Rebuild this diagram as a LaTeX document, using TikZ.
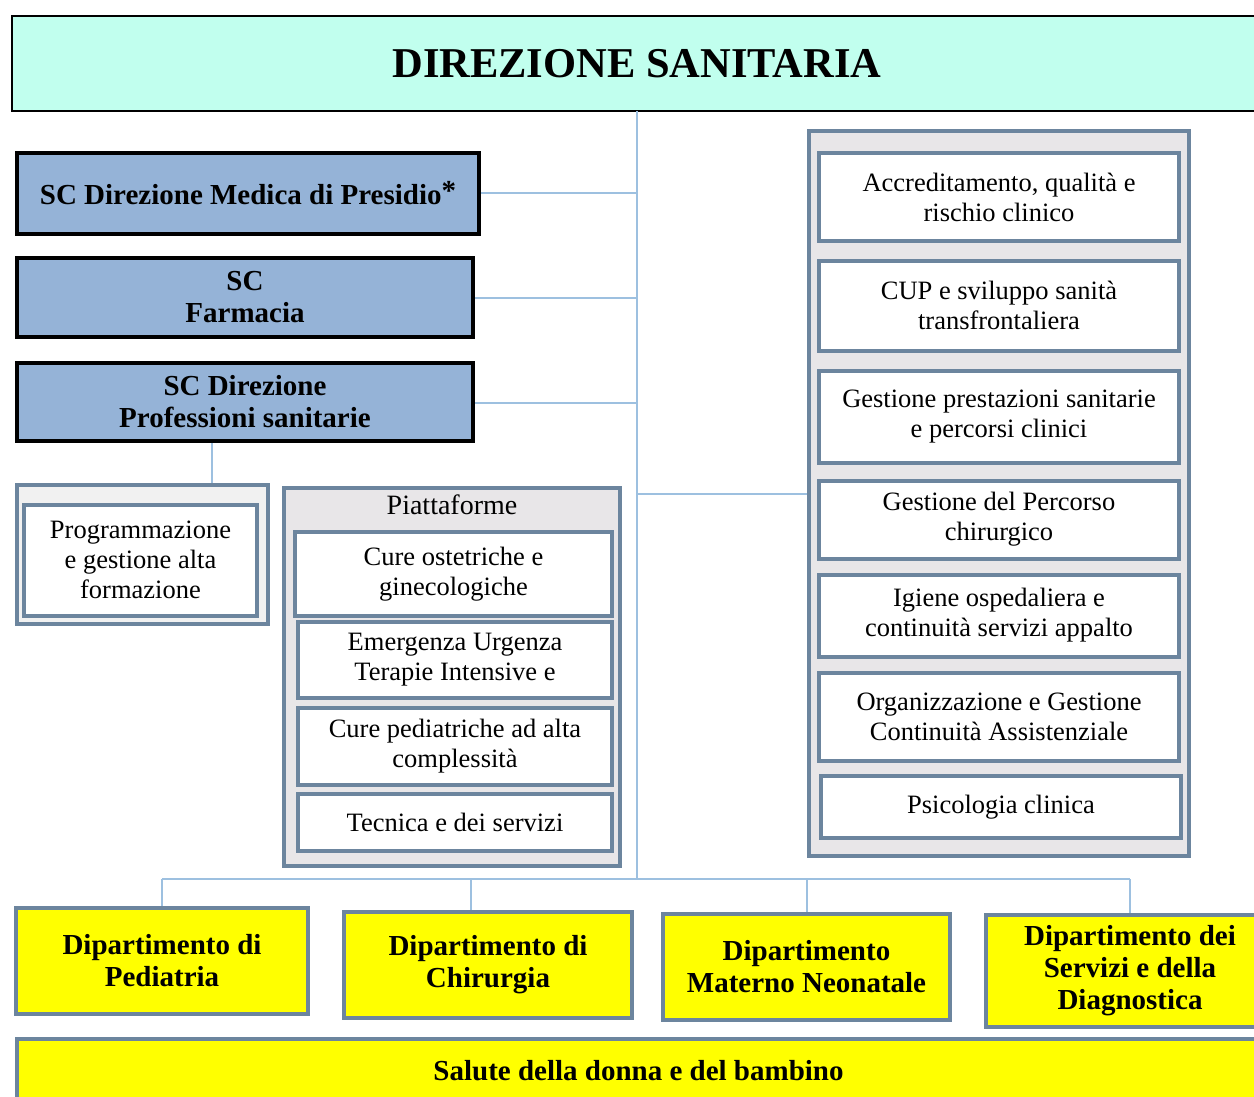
\documentclass[tikz,border=0pt]{standalone}
\usepackage{fontspec}
\setmainfont{Liberation Serif}
\definecolor{mint}{RGB}{193,255,238}
\definecolor{scblue}{RGB}{149,179,215}
\definecolor{steel}{RGB}{108,133,158}
\definecolor{linkblue}{RGB}{157,192,224}
\definecolor{panelgray}{RGB}{232,230,232}
\definecolor{lightgray}{RGB}{241,241,241}
\definecolor{deptyellow}{RGB}{255,255,0}
\tikzset{
  plainbox/.style={draw=steel,line width=4pt,fill=white,align=center,inner sep=0pt,
    font=\fontsize{26.5}{30}\selectfont},
  panel/.style={draw=steel,line width=4pt,fill=panelgray,inner sep=0pt},
  scbox/.style={draw=black,line width=4pt,fill=scblue,align=center,inner sep=0pt,
    font=\fontsize{29}{32}\selectfont\bfseries},
  deptbox/.style={draw=steel,line width=4pt,fill=deptyellow,align=center,inner sep=0pt,
    font=\fontsize{29}{32}\selectfont\bfseries},
  link/.style={draw=linkblue,line width=2pt}
}
\begin{document}
\begin{tikzpicture}[x=1pt,y=-1pt]
  \useasboundingbox (0,0) rectangle (1254,1097);
  % top
  \node[draw=black,line width=2pt,fill=mint,minimum width=1250pt,minimum height=95pt,
    font=\fontsize{42.5}{48}\selectfont\bfseries] (dirsan) at (637,63.5) {DIREZIONE SANITARIA};
  \coordinate (trunk) at (637,111);
  \coordinate (bus) at (637,879);
  % structures on the left
  \node[scbox,minimum width=462pt,minimum height=81pt] (medica) at (248,193.5)
    {SC Direzione Medica di Presidio\raisebox{4pt}{*}};
  \node[scbox,minimum width=456pt,minimum height=79pt] (farmacia) at (245,297.5)
    {SC\\Farmacia};
  \node[scbox,minimum width=456pt,minimum height=78pt] (profsan) at (245,402)
    {SC Direzione\\Professioni sanitarie};
  \node[panel,fill=lightgray,minimum width=251pt,minimum height=139pt] (progr) at (142.5,554.5) {};
  \node[plainbox,minimum width=233pt,minimum height=111pt] (formaz) at (140.5,560)
    {Programmazione\\e gestione alta\\formazione};
  % piattaforme
  \node[panel,minimum width=336pt,minimum height=378pt] (piatt) at (452,677) {};
  \node[font=\fontsize{28}{32}\selectfont] (piattit) at (452,505) {Piattaforme};
  \node[plainbox,minimum width=317pt,minimum height=84pt] (ostetr) at (453.5,574)
    {Cure ostetriche e\\ginecologiche};
  \node[plainbox,minimum width=314pt,minimum height=76pt] (emerg) at (455,660)
    {Emergenza Urgenza\\Terapie Intensive e};
  \node[plainbox,minimum width=314pt,minimum height=77pt] (pediatr) at (455,746.5)
    {Cure pediatriche ad alta\\complessità};
  \node[plainbox,minimum width=314pt,minimum height=57pt] (tecnica) at (455,822)
    {Tecnica e dei servizi};
  % staff on the right
  \node[panel,minimum width=380pt,minimum height=725pt] (staff) at (999,493.5) {};
  \node[plainbox,minimum width=360pt,minimum height=87pt] (accred) at (999,197)
    {Accreditamento, qualità e\\rischio clinico};
  \node[plainbox,minimum width=360pt,minimum height=90pt] (cup) at (999,305.5)
    {CUP e sviluppo sanità\\transfrontaliera};
  \node[plainbox,minimum width=360pt,minimum height=92pt] (prestaz) at (999,416.5)
    {Gestione prestazioni sanitarie\\e percorsi clinici};
  \node[plainbox,minimum width=360pt,minimum height=78pt] (percorso) at (999,519.5)
    {Gestione del Percorso\\chirurgico};
  \node[plainbox,minimum width=360pt,minimum height=82pt] (igiene) at (999,615.5)
    {Igiene ospedaliera e\\continuità servizi appalto};
  \node[plainbox,minimum width=360pt,minimum height=88pt] (organiz) at (999,716.5)
    {Organizzazione e Gestione\\Continuità Assistenziale};
  \node[plainbox,minimum width=360pt,minimum height=62pt] (psicol) at (1001,807)
    {Psicologia clinica};
  % dipartimenti
  \node[deptbox,minimum width=292pt,minimum height=106pt] (dped) at (162,961)
    {Dipartimento di\\Pediatria};
  \node[deptbox,minimum width=288pt,minimum height=106pt] (dchir) at (488,965)
    {Dipartimento di\\Chirurgia};
  \node[deptbox,minimum width=287pt,minimum height=106pt] (dmat) at (806.5,967)
    {Dipartimento\\Materno Neonatale};
  \node[deptbox,minimum width=288pt,minimum height=112pt] (dserv) at (1130,971)
    {Dipartimento dei\\Servizi e della\\Diagnostica};
  \node[deptbox,minimum width=1243pt,minimum height=64pt] (salute) at (638.5,1071)
    {Salute della donna e del bambino};
  % connectors
  \draw[link] (trunk) -- (bus);
  \draw[link] (medica.east) -- (medica.east -| trunk);
  \draw[link] (farmacia.east) -- (farmacia.east -| trunk);
  \draw[link] ([yshift=-1pt]profsan.east) -- ([yshift=-1pt]profsan.east -| trunk);
  \draw[link] (staff.west) -- (staff.west -| trunk);
  \draw[link] ([xshift=-33pt]profsan.south) -- ([xshift=-33pt]profsan.south |- progr.north);
  \draw[link] (bus -| dped.north) -- (bus -| dserv.north);
  \draw[link] (bus -| dped.north) -- (dped.north);
  \draw[link] ([xshift=-17pt]dchir.north |- bus) -- ([xshift=-17pt]dchir.north);
  \draw[link] (bus -| dmat.north) -- (dmat.north);
  \draw[link] (bus -| dserv.north) -- (dserv.north);
\end{tikzpicture}
\end{document}
